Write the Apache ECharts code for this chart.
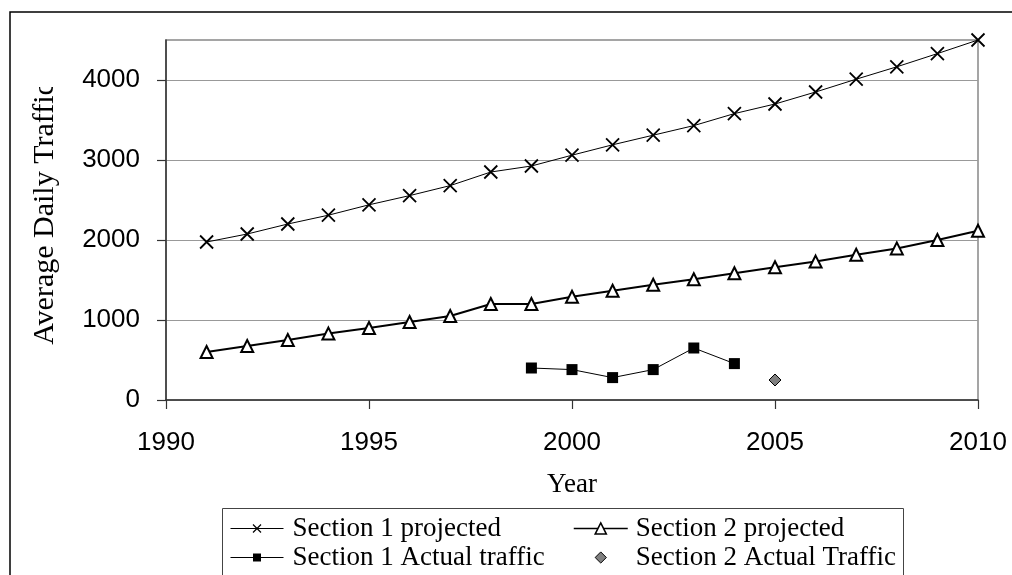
<!DOCTYPE html>
<html>
<head>
<meta charset="utf-8">
<script src="https://cdn.jsdelivr.net/npm/echarts@6/dist/echarts.min.js"></script>
<style>
html,body{margin:0;padding:0;background:#fff;}
#chart{width:1012px;height:575px;}
</style>
</head>
<body>
<div id="chart"></div>
<script>
// Data
var years = [1991,1992,1993,1994,1995,1996,1997,1998,1999,2000,2001,2002,2003,2004,2005,2006,2007,2008,2009,2010];
var s1Projected = [1975,2075,2200,2310,2440,2555,2680,2850,2925,3060,3190,3310,3430,3580,3700,3850,4010,4165,4330,4500];
var s2Projected = [600,675,750,830,900,975,1050,1200,1200,1290,1365,1440,1510,1585,1660,1730,1815,1895,2000,2115];
var s1ActualYears = [1999,2000,2001,2002,2003,2004];
var s1Actual = [400,380,280,380,650,455];
var s2ActualYears = [2005];
var s2Actual = [250];
var xTicks = [1990,1995,2000,2005,2010];
var yTicks = [0,1000,2000,3000,4000];
var seriesNames = ['Section 1 projected','Section 2 projected','Section 1 Actual traffic','Section 2 Actual Traffic'];

function pairs(xs, ys){ return xs.map(function(x,i){ return [x, ys[i]]; }); }
function plain(v){ return String(v); }

var serif = "'Liberation Serif','Times New Roman',serif";
var sans = "'Liberation Sans',Arial,sans-serif";
var crossPath = 'path://M0,0L10,10M10,0L0,10';

var chart = echarts.init(document.getElementById('chart'), null, {renderer:'canvas'});
chart.setOption({
  animation: false,
  backgroundColor: '#fff',
  grid: {
    left: 166, top: 40, right: 34, bottom: 175,
    show: true, borderColor: '#888', borderWidth: 1.5,
    outerBoundsMode: 'none', containLabel: false
  },
  xAxis: {
    type: 'value', min: 1990, max: 2010, interval: 5,
    name: 'Year', nameLocation: 'middle', nameGap: 71,
    nameTextStyle: {fontFamily: serif, fontSize: 27, color: '#000'},
    axisLine: {show: true, lineStyle: {color: '#333', width: 1.5}},
    axisTick: {show: true, length: 9, inside: false, lineStyle: {color: '#333', width: 1.2}, customValues: xTicks},
    axisLabel: {fontFamily: sans, fontSize: 26, color: '#000', margin: 30, customValues: xTicks, formatter: plain},
    splitLine: {show: false}
  },
  yAxis: {
    type: 'value', min: 0, max: 4500, interval: 1000,
    name: 'Average Daily Traffic', nameLocation: 'middle', nameGap: 106,
    nameTextStyle: {fontFamily: serif, fontSize: 30, color: '#000', padding: [0, 0, 0, 13]},
    axisLine: {show: true, lineStyle: {color: '#333', width: 1.5}},
    axisTick: {show: true, length: 9, inside: false, lineStyle: {color: '#333', width: 1.2}, customValues: yTicks},
    axisLabel: {fontFamily: sans, fontSize: 26, color: '#000', margin: 26, customValues: yTicks, formatter: plain},
    splitLine: {show: true, lineStyle: {color: '#999', width: 1}}
  },
  legend: [
    {
      orient: 'vertical', left: 230, top: 514, padding: 0, itemGap: 0,
      itemWidth: 53, itemHeight: 10,
      textStyle: {fontFamily: serif, fontSize: 27, color: '#000', lineHeight: 29, padding: [0,0,0,4]},
      selectedMode: false,
      data: [
        {name: seriesNames[0], itemStyle: {color: '#000', borderColor: '#000', borderWidth: 1.2}, lineStyle: {color: '#000', width: 1}},
        {name: seriesNames[2], itemStyle: {color: '#000', borderColor: '#000', borderWidth: 0}, lineStyle: {color: '#000', width: 1}}
      ]
    },
    {
      orient: 'vertical', left: 573, top: 514, padding: 0, itemGap: 0,
      itemWidth: 54, itemHeight: 14,
      textStyle: {fontFamily: serif, fontSize: 27, color: '#000', lineHeight: 29, padding: [0,0,0,3]},
      selectedMode: false,
      data: [
        {name: seriesNames[1], itemStyle: {color: '#fff', borderColor: '#000', borderWidth: 1.5}, lineStyle: {color: '#000', width: 1.5}},
        {name: seriesNames[3], itemStyle: {color: '#808080', borderColor: '#000', borderWidth: 1}, lineStyle: {color: 'none', width: 0, opacity: 0}}
      ]
    }
  ],
  graphic: [
    {type: 'rect', silent: true, z: 100, shape: {x: 20, y: 20, width: 52, height: 67}, style: {fill: '#fff', stroke: 'none'}},
    {type: 'rect', silent: true, z: 101, shape: {x: 10, y: 12, width: 1010, height: 580}, style: {fill: 'none', stroke: '#000', lineWidth: 1.5}},
    {type: 'rect', silent: true, z: 101, shape: {x: 222.5, y: 508.5, width: 681, height: 80}, style: {fill: 'none', stroke: '#444', lineWidth: 1}}
  ],
  series: [
    {
      name: seriesNames[0], type: 'line', data: pairs(years, s1Projected),
      symbol: crossPath, symbolSize: 13, showAllSymbol: true,
      lineStyle: {color: '#000', width: 1},
      itemStyle: {color: '#000', borderColor: '#000', borderWidth: 1.8},
      emphasis: {disabled: true}, z: 3
    },
    {
      name: seriesNames[1], type: 'line', data: pairs(years, s2Projected),
      symbol: 'triangle', symbolSize: 12, showAllSymbol: true,
      lineStyle: {color: '#000', width: 2},
      itemStyle: {color: '#fff', borderColor: '#000', borderWidth: 2},
      emphasis: {disabled: true}, z: 3
    },
    {
      name: seriesNames[2], type: 'line', data: pairs(s1ActualYears, s1Actual),
      symbol: 'rect', symbolSize: 11, showAllSymbol: true,
      lineStyle: {color: '#000', width: 1},
      itemStyle: {color: '#000', borderColor: '#000', borderWidth: 0},
      emphasis: {disabled: true}, z: 3
    },
    {
      name: seriesNames[3], type: 'line', data: pairs(s2ActualYears, s2Actual),
      symbol: 'diamond', symbolSize: 12, showAllSymbol: true,
      lineStyle: {width: 0, opacity: 0},
      itemStyle: {color: '#808080', borderColor: '#000', borderWidth: 1},
      emphasis: {disabled: true}, z: 3
    }
  ]
});
</script>
</body>
</html>
